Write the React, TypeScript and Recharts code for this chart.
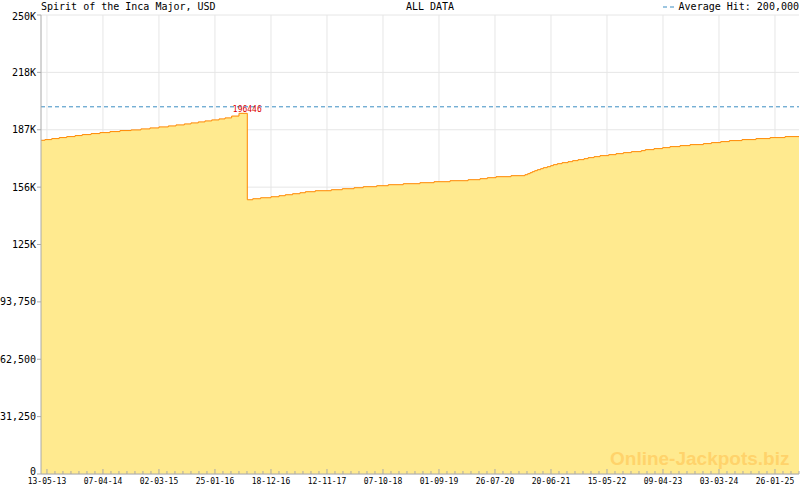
import { AreaChart, Area, XAxis, YAxis, CartesianGrid, ReferenceLine, ReferenceDot } from 'recharts'

// x values are days counted from the first labelled tick (13-05-13)
const X_TICK_LABELS = [
  '13-05-13', '07-04-14', '02-03-15', '25-01-16', '18-12-16', '12-11-17', '07-10-18',
  '01-09-19', '26-07-20', '20-06-21', '15-05-22', '09-04-23', '03-03-24', '26-01-25',
]
const MINOR_STEP_DAYS = 47
const MINOR_PER_MAJOR = 7
const X_DOMAIN: [number, number] = [-35, 4418]

const Y_TICKS = [0, 31250, 62500, 93750, 125000, 156250, 187500, 218750, 250000]
const Y_TICK_LABELS = ['0', '31,250', '62,500', '93,750', '125K', '156K', '187K', '218K', '250K']

const AVERAGE_HIT = 200000
const PEAK_DAY = 1177
const PEAK_VALUE = 196446

const JACKPOT_DAYS = [
  -35, -12, 28, 72, 116, 165, 207, 259, 311, 370, 429, 494, 552, 605, 658, 713, 758, 807,
  846, 889, 928, 968, 1011, 1046, 1085, 1128,
  1177, 1209, 1255, 1316, 1363, 1400, 1443, 1486, 1518, 1576, 1670, 1735, 1804, 1858, 1937,
  2005, 2093, 2191, 2274, 2368, 2474, 2544, 2587, 2638,
  2726, 2808, 2824, 2838, 2851, 2865, 2881, 2900, 2916, 2939, 2959, 2975, 2998, 3026, 3061,
  3088, 3120, 3155, 3179, 3214, 3249, 3300, 3343, 3386, 3433, 3491, 3515, 3566, 3617, 3660,
  3719, 3778, 3856, 3903, 3958, 4009, 4083, 4165, 4248, 4336, 4418,
]
const JACKPOT_VALUES = [
  181770, 182130, 182680, 183230, 183770, 184320, 184860, 185410, 185950, 186500, 187050,
  187410, 187960, 188500, 189050, 189590, 190140, 190680, 191230, 191780, 192320, 192870,
  193410, 193960, 194960, 196446,
  149380, 149930, 150470, 151020, 151570, 152110, 152660, 153200, 153750, 154300, 154840,
  155390, 155930, 156480, 157020, 157570, 158120, 158660, 159210, 159750, 160300, 160850,
  161390, 161940,
  162480, 163030, 163570, 164120, 164670, 165210, 165760, 166300, 166850, 167390, 167940,
  168490, 169030, 169580, 170120, 170670, 171220, 171760, 172310, 172850, 173400, 173940,
  174490, 175040, 175580, 176130, 176670, 177220, 177760, 178310, 178860, 179400, 179950,
  180490, 181040, 181590, 182130, 182680, 183220, 183770, 183770,
]

const data = JACKPOT_DAYS.map((day, i) => ({ day, value: JACKPOT_VALUES[i] }))

const minorTicks: number[] = []
for (let d = 0; d <= X_DOMAIN[1]; d += MINOR_STEP_DAYS) minorTicks.push(d)
const majorTicks = X_TICK_LABELS.map((_, i) => i * MINOR_STEP_DAYS * MINOR_PER_MAJOR)

const MONO = '"DejaVu Sans Mono", monospace'
const AXIS = '#aaaaaa'
const GRID = '#e6e6e6'

function DateTick({ x, y, payload }: any) {
  const idx = Math.round(payload.value / MINOR_STEP_DAYS)
  const major = idx % MINOR_PER_MAJOR === 0
  return (
    <g>
      <line x1={x} x2={x} y1={y} y2={y - (major ? 5 : 3)} stroke={AXIS} />
      {major && (
        <text x={x} y={y + 10} textAnchor="middle" fontSize={8} fontFamily={MONO} fill="#000">
          {X_TICK_LABELS[idx / MINOR_PER_MAJOR]}
        </text>
      )}
    </g>
  )
}

// first and last value labels are nudged inside the plot, as in the source image
function ValueTick({ x, y, payload }: any) {
  const i = Y_TICKS.indexOf(payload.value)
  const nudge = i === 0 ? -3 : i === Y_TICKS.length - 1 ? 1.5 : 0
  return (
    <text x={x} y={y + nudge} dy="0.355em" textAnchor="end" fontSize={10} fontFamily={MONO} fill="#000">
      {Y_TICK_LABELS[i]}
    </text>
  )
}

// vertical grid only on the labelled dates, placed with the x axis scale
function majorGridX({ xAxis }: any) {
  const s = xAxis?.scale
  if (!s) return []
  return majorTicks.map((d) => (typeof s === 'function' ? s(d) : s.map(d)))
}

export default function App() {
  return (
    <div style={{ position: 'absolute', left: 0, top: 0, width: 800, height: 490, background: '#fff', fontFamily: MONO }}>
      <AreaChart width={800} height={490} data={data} margin={{ top: 15, right: 1, bottom: 0, left: 0 }}>
        <CartesianGrid stroke={GRID} verticalCoordinatesGenerator={majorGridX} />
        <XAxis
          dataKey="day"
          type="number"
          domain={X_DOMAIN}
          allowDataOverflow
          ticks={minorTicks}
          interval={0}
          tick={<DateTick />}
          tickSize={0}
          tickMargin={0}
          tickLine={false}
          axisLine={{ stroke: AXIS }}
          height={16}
        />
        <XAxis
          xAxisId="top"
          orientation="top"
          type="number"
          domain={X_DOMAIN}
          allowDataOverflow
          tick={false}
          tickLine={false}
          axisLine={{ stroke: AXIS }}
          height={0}
        />
        <YAxis
          type="number"
          domain={[0, 250000]}
          ticks={Y_TICKS}
          interval={0}
          tick={<ValueTick />}
          tickSize={4}
          tickMargin={1}
          tickLine={{ stroke: AXIS }}
          axisLine={{ stroke: AXIS }}
          width={41}
        />
        <YAxis
          yAxisId="right"
          orientation="right"
          type="number"
          domain={[0, 1]}
          tick={false}
          tickLine={false}
          axisLine={{ stroke: AXIS }}
          width={0}
        />
        <Area
          type="stepAfter"
          dataKey="value"
          stroke="#ff8800"
          strokeWidth={1}
          fill="#ffea8f"
          fillOpacity={1}
          isAnimationActive={false}
        />
        <ReferenceLine y={AVERAGE_HIT} stroke="#3b8dc2" strokeDasharray="4 3" />
        <ReferenceDot
          x={PEAK_DAY}
          y={PEAK_VALUE}
          r={0}
          label={{ value: String(PEAK_VALUE), position: 'top', offset: 1, fill: '#dd0000', fontSize: 8, fontFamily: MONO }}
        />
      </AreaChart>
      <div style={{ position: 'absolute', left: 41, top: 1, fontSize: 10, lineHeight: '12px' }}>
        Spirit of the Inca Major, USD
      </div>
      <div style={{ position: 'absolute', left: 430, top: 1, fontSize: 10, lineHeight: '12px', transform: 'translateX(-50%)' }}>
        ALL DATA
      </div>
      <div style={{ position: 'absolute', right: 1, top: 1, fontSize: 10, lineHeight: '12px', display: 'flex', alignItems: 'center', gap: 4 }}>
        <svg width={12} height={4}>
          <line x1={0} x2={12} y1={2} y2={2} stroke="#3b8dc2" strokeDasharray="4 3" />
        </svg>
        <span>Average Hit: 200,000</span>
      </div>
      <div
        style={{
          position: 'absolute', left: 610, top: 449, fontSize: 19, lineHeight: '19px', fontWeight: 'bold',
          fontFamily: '"Liberation Sans", Arial, sans-serif', color: '#ffd36b', pointerEvents: 'none',
        }}
      >
        Online-Jackpots.biz
      </div>
    </div>
  )
}
